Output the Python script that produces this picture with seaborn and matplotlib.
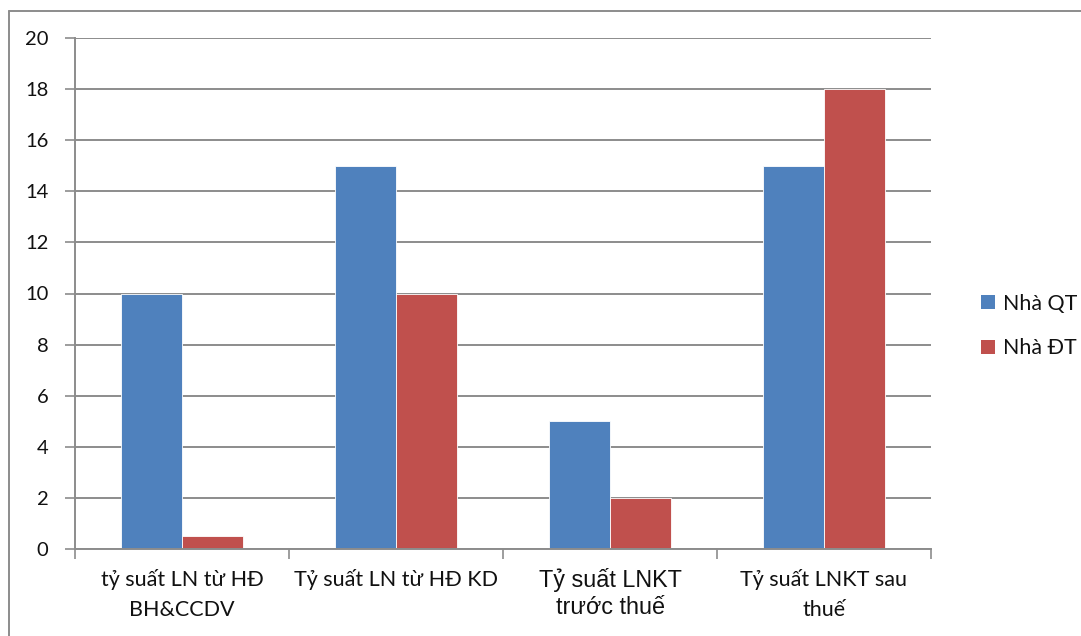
import matplotlib
matplotlib.use("Agg")
import matplotlib.pyplot as plt
from matplotlib.lines import Line2D
from matplotlib.patches import Patch
import pandas as pd
import seaborn as sns

# Chart data
categories = [
    "tỷ suất LN từ HĐ\nBH&CCDV",
    "Tỷ suất LN từ HĐ KD",
    "Tỷ suất LNKT\ntrước thuế",
    "Tỷ suất LNKT sau\nthuế",
]
series_names = ["Nhà QT", "Nhà ĐT"]
nha_qt = [10, 15, 5, 15]
nha_dt = [0.5, 10, 2, 18]
y_ticks = [0, 2, 4, 6, 8, 10, 12, 14, 16, 18, 20]

colors = ["#4F81BD", "#C0504D"]
grid_col = "#8C8C8C"
text_col = "#111111"

df = pd.DataFrame({
    "category": categories * 2,
    "series": [series_names[0]] * 4 + [series_names[1]] * 4,
    "value": nha_qt + nha_dt,
})

sns.set_theme(style="white")
plt.rcParams["font.family"] = ["Lato", "DejaVu Sans"]

W, H = 1081, 636
PX = 72 / 100  # points per pixel at 100 dpi
fig = plt.figure(figsize=(W / 100, H / 100), dpi=100)
ax = fig.add_axes([75 / W, 1 - 549 / H, (931 - 75) / W, (549 - 38) / H])

sns.barplot(data=df, x="category", y="value", hue="series", order=categories,
            hue_order=series_names, palette=colors, width=0.57, gap=0,
            edgecolor="white", linewidth=0.6, saturation=1, legend=False, ax=ax)

ax.set_xlim(-0.5, len(categories) - 0.5)
ax.set_ylim(0, 20)
ax.set_yticks(y_ticks)
ax.set_yticklabels([str(v) for v in y_ticks], fontsize=14.5, color=text_col)
ax.yaxis.grid(True, color=grid_col, linewidth=1.4)
ax.set_axisbelow(True)
ax.tick_params(axis="y", length=7, width=1.2, color=grid_col, direction="out",
               pad=17 * PX, left=True)

# category separators as minor ticks; labels drawn line by line below the axis
ax.set_xticks(range(len(categories)))
ax.set_xticklabels([])
ax.set_xticks([i - 0.5 for i in range(len(categories) + 1)], minor=True)
ax.tick_params(axis="x", which="major", length=0)
ax.tick_params(axis="x", which="minor", length=7, width=1.2, color=grid_col,
               direction="out", bottom=True)

for i, lab in enumerate(categories):
    lines = lab.split("\n")
    if i == 2:
        fam, size, offs = ["Liberation Sans", "DejaVu Sans"], 16.8, [31, 58]
    else:
        fam, size, offs = ["Lato", "DejaVu Sans"], 15.5, [31, 61]
    for line, off in zip(lines, offs):
        ax.annotate(line, xy=(i, 0), xycoords="data", xytext=(0, -off * PX),
                    textcoords="offset points", ha="center", va="center",
                    fontsize=size, family=fam, color=text_col, annotation_clip=False)

for s in ["top", "right"]:
    ax.spines[s].set_visible(False)
for s in ["left", "bottom"]:
    ax.spines[s].set_color(grid_col)
    ax.spines[s].set_linewidth(1.4)
ax.set_xlabel("")
ax.set_ylabel("")

handles = [Patch(facecolor=c, edgecolor="none") for c in colors]
fig.legend(handles, series_names, loc="center left", bbox_to_anchor=(962 / W, 1 - 326 / H),
           frameon=False, fontsize=15.4, handlelength=0.65, handleheight=0.65,
           handletextpad=0.35, labelspacing=1.15, labelcolor=text_col)

# outer chart border (top and left edges)
fig.add_artist(Line2D([8.5 / W, 1.0], [1 - 10.5 / H, 1 - 10.5 / H], color=grid_col, linewidth=1.4))
fig.add_artist(Line2D([8.5 / W, 8.5 / W], [0.0, 1 - 10.5 / H], color=grid_col, linewidth=1.4))

fig.savefig("out.png", dpi=100)
